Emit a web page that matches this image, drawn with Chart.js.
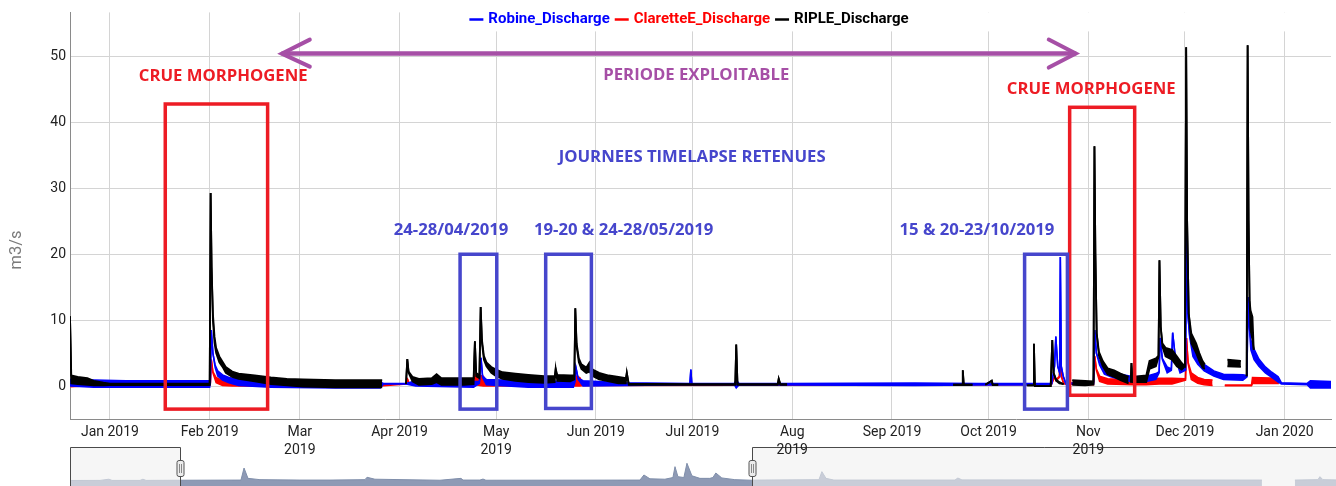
<!DOCTYPE html>
<html><head><meta charset="utf-8">
<script src="https://cdn.jsdelivr.net/npm/chart.js@4.4.1/dist/chart.umd.min.js"></script>
<style>
html,body{margin:0;padding:0;background:#fff;overflow:hidden}
#wrap{position:relative;width:1336px;height:486px}
#nav{position:absolute;left:0;top:447px;z-index:1}
#main{position:absolute;left:0;top:0;z-index:2}
</style></head><body>
<div id="wrap"><canvas id="nav" width="1336" height="39"></canvas><canvas id="main" width="1336" height="486"></canvas></div>
<script>
// ---------- axis ticks (days since 1 Jan 2019) ----------
const xMin = -12.4, xMax = 379.4;
const monthDays = [0, 31, 59, 90, 120, 151, 181, 212, 243, 273, 304, 334, 365];
const monthLabels = [['Jan 2019'], ['Feb 2019'], ['Mar', '2019'], ['Apr 2019'], ['May', '2019'], ['Jun 2019'],
  ['Jul 2019'], ['Aug', '2019'], ['Sep 2019'], ['Oct 2019'], ['Nov', '2019'], ['Dec 2019'], ['Jan 2020']];
const yTicks = [0, 10, 20, 30, 40, 50];
const seriesNames = ['Robine_Discharge', 'ClaretteE_Discharge', 'RIPLE_Discharge'];

// ---------- RIPLE_Discharge (upper / lower envelope of the dense record) ----------
const ripleDays = [-12.4, -12.0, -10, -7, -5, -2, 0, 31.0, 31.3, 31.6,
  32.0, 32.5, 33, 34, 35, 36, 38, 40, 45, 50,
  55, 60, 70, 80, 84.6, 85, 92.0, 92.4, 92.8, 94,
  96, 100, 101.5, 103, 110, 113, 113.4, 113.8, 114.8, 115.2,
  115.6, 116.2, 117, 118.5, 120, 122, 126, 130, 135, 138.2,
  138.5, 139, 143, 144.3, 144.6, 145, 145.7, 146.5, 148, 149,
  150, 152, 155, 158, 160.3, 160.6, 161.2, 180, 194.3, 194.6,
  195, 207.5, 207.8, 208.3, 210.4, 210.5, 262, 264.8, 265, 265.3,
  268, 268.1, 272, 274, 274.3, 276, 276.1, 285, 287, 287.1,
  287.4, 292.3, 292.8, 293.2, 294, 295, 296.3, 296.4, 299, 303,
  305.6, 305.9, 306.2, 306.6, 307.3, 308.5, 310, 312, 314, 316.5,
  317.0, 317.2, 317.4, 317.7, 322, 323, 325, 325.8, 326.1, 326.5,
  327, 328, 330, 331.5, 333, 334, 334.4, 334.7, 335.2, 336,
  337.5, 338.5, 339.5, 340.2, 340.3, 347.2, 351.4, 351.5, 353.2, 353.5,
  353.8, 354.1, 354.4, 355, 355.4];
const ripleHigh = [10.6, 1.6, 1.4, 1.2, 0.8, 0.5, 0.35, 0.35, 29.3, 18,
  11, 7.5, 5.8, 4.5, 3.7, 2.9, 2.2, 1.9, 1.6, 1.3,
  1.1, 1.0, 0.9, 0.9, 0.9, null, 0.3, 4.1, 2.2, 1.4,
  1.1, 1.2, 1.8, 1.2, 1.2, 1.2, 6.8, 2.0, 1.6, 12.0,
  7.0, 4.6, 3.6, 2.9, 2.5, 2.1, 1.9, 1.7, 1.5, 1.5,
  2.6, 1.7, 1.6, 1.6, 11.8, 6.5, 4.2, 3.3, 2.8, 3.6,
  2.5, 2.0, 1.6, 1.4, 1.2, 2.0, 0.35, 0.3, 0.3, 6.3,
  0.3, 0.3, 1.1, 0.3, 0.3, null, 0.2, 0.2, 2.4, 0.2,
  0.2, null, 0.2, 0.8, 0.2, 0.2, null, 0.1, 0.1, 6.4,
  0.0, 0.0, 7.0, 2.0, 1.0, 0.6, 0.3, null, 0.9, 0.8,
  0.7, 36.4, 20, 8.0, 5.2, 3.8, 2.7, 2.4, 1.9, 1.4,
  null, 1.2, 3.5, 1.4, 1.6, 3.8, 4.2, 4.6, 19.1, 9.0,
  6.5, 5.8, 5.5, 4.5, 3.5, 3.0, 51.4, 25, 11, 8.0,
  6.5, 5.0, 3.8, 3.3, null, 4.0, 3.8, null, 1.5, 51.7,
  25, 13, 11.5, 10.5, 5.5];
const ripleLow = [10.6, 0.4, 0.3, 0.2, 0.1, 0.1, 0.15, 0.15, 29.3, 18,
  10, 6.5, 5.0, 3.6, 2.9, 2.0, 1.4, 1.1, 0.7, 0.3,
  0.1, -0.1, -0.2, -0.2, -0.2, null, 0.3, 4.1, 2.0, 0.7,
  0.2, 0.3, 0.6, 0.2, 0.2, 0.3, 6.8, 1.5, 1.2, 12.0,
  6.5, 4.0, 3.0, 2.0, 1.5, 1.1, 0.8, 0.6, 0.5, 0.6,
  2.6, 0.8, 0.7, 1.0, 11.8, 6.0, 3.6, 2.6, 2.0, 2.2,
  1.5, 1.0, 0.7, 0.4, 0.4, 2.0, 0.2, 0.2, 0.2, 6.3,
  0.2, 0.2, 1.1, 0.2, 0.2, null, 0.2, 0.2, 2.4, 0.2,
  0.2, null, 0.2, 0.8, 0.2, 0.2, null, 0.1, 0.1, 6.4,
  0.0, 0.0, 7.0, 2.0, 0.8, 0.4, 0.3, null, 0.2, 0.1,
  0.2, 36.4, 20, 8.0, 4.6, 3.0, 1.8, 1.4, 0.9, 0.4,
  null, 0.5, 3.5, 0.6, 0.6, 2.6, 3.0, 4.4, 19.1, 9.0,
  6.0, 4.5, 4.0, 3.0, 2.5, 3.0, 51.4, 25, 11, 6.5,
  5.0, 3.8, 2.8, 2.6, null, 3.0, 2.9, null, 1.5, 51.7,
  25, 13, 8.5, 7.0, 5.5];

// ---------- Robine_Discharge ----------
const robineDays = [-12.4, -5, 5, 31.0, 31.2, 31.5, 32.0, 32.7, 33.5, 35,
  37, 40, 50, 70, 84, 85, 92, 95, 113, 114.8,
  115.3, 115.8, 117, 130, 144, 144.5, 144.8, 145.5, 147, 160,
  180.2, 180.5, 180.8, 194, 194.6, 195.5, 210, 250, 270, 290,
  292.6, 293.5, 293.9, 294.5, 295.1, 295.3, 295.6, 296.2, 297, 305.6,
  306.0, 306.5, 307.5, 309, 311, 314, 318, 322, 325, 326,
  326.3, 327, 328.5, 329.8, 330.2, 331, 332.5, 334.2, 334.5, 334.9,
  335.5, 336.5, 338, 340, 343, 346, 352, 353.3, 353.6, 354,
  354.5, 355.5, 357, 359, 361, 363, 364, 372, 373, 379.4];
const robineHigh = [1.0, 0.9, 0.8, 0.8, 0.6, 8.5, 5.0, 3.2, 2.3, 1.7,
  1.3, 1.0, 0.8, 0.7, 0.6, 0.4, 0.4, 0.8, 0.7, 0.7,
  4.3, 1.5, 1.0, 0.8, 0.7, 0.8, 2.8, 1.2, 0.8, 0.5,
  0.4, 2.5, 0.4, 0.4, 0.9, 0.4, 0.4, 0.45, 0.4, 0.4,
  0.4, 3.0, 7.5, 3.0, 2.0, 19.6, 3.0, 1.5, 0.5, 0.4,
  8.5, 5.0, 3.7, 2.7, 2.3, 1.8, 1.4, 1.5, 1.9, 2.2,
  7.3, 4.2, 2.9, 2.6, 8.1, 4.6, 3.1, 2.6, 23.5, 11,
  7.6, 5.6, 4.3, 3.3, 2.3, 1.8, 1.7, 1.6, 13.5, 9.0,
  7.0, 5.6, 4.1, 2.9, 2.1, 1.4, 0.5, 0.4, 0.8, 0.7];
const robineLow = [0.0, -0.2, -0.2, -0.2, 0.5, 8.5, 5.0, 2.8, 1.5, 0.9,
  0.5, 0.1, -0.2, -0.3, -0.3, 0.3, 0.3, 0.0, -0.2, 0.4,
  4.3, 1.3, 0.2, -0.2, -0.2, 0.6, 2.8, 1.0, 0.0, 0.1,
  0.2, 2.5, 0.2, 0.2, -0.3, 0.2, 0.15, 0.1, 0.15, 0.15,
  0.3, 3.0, 7.5, 3.0, 2.0, 19.6, 3.0, 1.5, 0.3, 0.3,
  8.5, 5.0, 3.2, 1.8, 1.4, 1.0, 0.6, 0.7, 1.0, 2.0,
  7.3, 4.0, 2.0, 2.4, 8.1, 4.4, 2.0, 2.4, 23.5, 11,
  7.4, 4.5, 3.3, 2.3, 1.5, 1.0, 0.9, 1.4, 13.5, 9.0,
  5.5, 4.0, 3.0, 2.0, 1.3, 0.6, 0.3, 0.2, -0.3, -0.3];

// ---------- ClaretteE_Discharge ----------
const clarDays = [-12.4, -12.0, -8, 0, 31.0, 31.2, 31.5, 32.0, 33, 35,
  38, 84, 92, 92.5, 93, 113, 113.5, 116, 117, 143.5,
  144.5, 146, 147, 292.5, 293.5, 294, 295, 295.3, 295.7, 296.3,
  305.6, 306.0, 306.5, 307.5, 310, 318, 322, 326, 330, 334.2,
  334.5, 335, 336, 338, 340, 342.6, 342.7, 346.4, 354.7, 355,
  363.2, 363.3];
const clarHigh = [1.0, 0.6, 0.5, 0.4, 0.3, 0.4, 4.0, 2.2, 1.3, 0.8,
  0.4, 0.3, 0.3, 1.0, 0.3, 0.5, 1.8, 1.5, 0.6, 0.4,
  1.6, 1.3, 0.4, 0.3, 1.5, 1.0, 1.5, 4.8, 1.5, 0.5,
  0.4, 4.5, 2.6, 1.5, 1.1, 0.9, 1.0, 1.2, 1.2, 1.1,
  7.3, 3.6, 2.0, 1.3, 1.0, 0.9, null, 0.15, 0.15, 1.3,
  1.2, null];
const clarLow = [0.8, -0.1, 0.0, 0.0, 0.1, 0.4, 4.0, 2.0, 0.5, 0.1,
  0.0, 0.0, 0.3, 1.0, 0.3, 0.0, 0.2, 0.0, 0.0, 0.1,
  0.0, 0.0, 0.1, 0.2, 1.3, 0.8, 1.3, 4.8, 1.3, 0.3,
  0.2, 4.5, 2.4, 0.7, 0.3, 0.2, 0.2, 0.3, 0.3, 0.9,
  7.3, 3.4, 1.0, 0.4, 0.2, 0.1, null, 0.05, 0.05, 0.4,
  0.4, null];

// ---------- range-selector overview (days since 1 Jan 2019, mean discharge) ----------
const navDays = [-87.8, -67.2, -61.1, -59, -39.8, -37.8, -35.7, -12.4, 29.4, 31.5,
  34.2, 42.4, 69.8, 90.4, 114.4, 115.8, 121.2, 165.8, 180.2, 181.6,
  193.2, 195.3, 197.3, 302.9, 305.6, 309.7, 320, 325.5, 326.9, 328.9,
  333, 335.1, 338.5, 344, 350.8, 352.9, 354.9, 359, 367.9, 379.5,
  385, 425.6, 427.6, 430.4, 435.8, 518.8, 520.8, 523.6, 729.2, 730,
  751.8, 767.6, 769, 771, 780];
const navValues = [0.5, 0.6, 2.0, 0.6, 0.6, 2.0, 0.6, 0.8, 1.0, 15.2,
  3.0, 1.5, 1.0, 1.0, 1.5, 4.3, 2.0, 0.8, 3.0, 1.0,
  1.0, 2.2, 0.8, 1.0, 7.0, 2.5, 2.0, 4.0, 16.8, 5.0,
  4.0, 20.8, 6.0, 3.0, 3.0, 4.0, 9.3, 3.5, 1.5, 0.8,
  1.0, 1.5, 10.9, 3.0, 1.0, 1.0, 3.4, 1.2, 1.0, null,
  1.0, 1.5, 5.0, 1.5, 1.2];

// ---------- hand-drawn annotations (data coordinates) ----------
const crueBoxes = [{x0: 17.2, x1: 49.0, y0: -3.5, y1: 42.8}, {x0: 298.2, x1: 318.4, y0: -1.4, y1: 42.3}];
const timelapseBoxes = [{x0: 108.8, x1: 120.2, y0: -3.5, y1: 20.0}, {x0: 135.4, x1: 149.6, y0: -3.4, y1: 20.0},
  {x0: 284.2, x1: 297.5, y0: -3.5, y1: 20.0}];
const annTexts = [
  {text: 'CRUE MORPHOGENE', x: 35.2, y: 47.0, kind: 'crue'},
  {text: 'CRUE MORPHOGENE', x: 304.9, y: 45.0, kind: 'crue'},
  {text: 'PERIODE EXPLOITABLE', x: 182.2, y: 47.1, kind: 'period'},
  {text: 'JOURNEES TIMELAPSE RETENUES', x: 180.9, y: 34.7, kind: 'tl'},
  {text: '24-28/04/2019', x: 106.0, y: 23.6, kind: 'tl'},
  {text: '19-20 & 24-28/05/2019', x: 159.6, y: 23.6, kind: 'tl'},
  {text: '15 & 20-23/10/2019', x: 269.4, y: 23.6, kind: 'tl'}
];
const periodArrow = {x0: 53.1, x1: 300.4, y: 50.45};

// ---------- styles ----------
const seriesColors = ['#0000ff', '#ff0000', '#000000'];
const annColors = {crue: '#ed1c24', period: '#a64fa6', tl: '#4646cc'};
const annFont = 'bold 16.7px "Open Sans"';

function pts(days, vals) { return days.map((d, i) => ({x: d, y: vals[i]})); }
function band(name, days, hi, lo, color, order, width) {
  const common = {borderColor: color, backgroundColor: color, borderWidth: width, pointRadius: 0,
    pointHoverRadius: 0, tension: 0, spanGaps: false, order: order};
  return [
    Object.assign({label: name, data: pts(days, hi), fill: false}, common),
    Object.assign({label: name + ' min', data: pts(days, lo), fill: '-1'}, common)
  ];
}

const annotationPlugin = {
  id: 'handAnnotations',
  afterDatasetsDraw(chart) {
    const ctx = chart.ctx, xs = chart.scales.x, ys = chart.scales.y;
    ctx.save();
    ctx.lineJoin = 'miter';
    function box(b, color) {
      const x0 = xs.getPixelForValue(b.x0), x1 = xs.getPixelForValue(b.x1);
      const y0 = ys.getPixelForValue(b.y0), y1 = ys.getPixelForValue(b.y1);
      ctx.strokeStyle = color; ctx.lineWidth = 3.5;
      ctx.strokeRect(x0, y1, x1 - x0, y0 - y1);
    }
    crueBoxes.forEach(b => box(b, annColors.crue));
    timelapseBoxes.forEach(b => box(b, annColors.tl));
    // double arrow
    const ax0 = xs.getPixelForValue(periodArrow.x0), ax1 = xs.getPixelForValue(periodArrow.x1);
    const ay = ys.getPixelForValue(periodArrow.y);
    ctx.strokeStyle = annColors.period; ctx.lineWidth = 4.5; ctx.lineCap = 'round';
    ctx.beginPath(); ctx.moveTo(ax0 + 2, ay); ctx.lineTo(ax1 - 2, ay); ctx.stroke();
    ctx.lineWidth = 4;
    ctx.beginPath();
    ctx.moveTo(ax0 + 29, ay - 14); ctx.lineTo(ax0 + 1, ay); ctx.lineTo(ax0 + 29, ay + 13);
    ctx.moveTo(ax1 - 28, ay - 14); ctx.lineTo(ax1 - 1, ay); ctx.lineTo(ax1 - 28, ay + 14);
    ctx.stroke();
    // texts
    ctx.font = annFont; ctx.textAlign = 'center'; ctx.textBaseline = 'middle';
    annTexts.forEach(t => {
      ctx.fillStyle = annColors[t.kind];
      ctx.fillText(t.text, xs.getPixelForValue(t.x), ys.getPixelForValue(t.y));
    });
    ctx.restore();
  },
  afterDraw(chart) {
    const ctx = chart.ctx, area = chart.chartArea;
    ctx.save();
    // legend (white box over the top of the plot, as in the original)
    ctx.fillStyle = '#ffffff';
    ctx.fillRect(455, area.top, area.right - 455, 19);
    ctx.font = 'bold 15px Roboto';
    ctx.textBaseline = 'middle'; ctx.textAlign = 'left';
    const dash = 14, gap = 5, sep = 5;
    let total = 0;
    seriesNames.forEach(n => { total += dash + gap + ctx.measureText(n).width + sep; });
    total -= sep;
    let x = 689 - total / 2; const y = 19.5;
    seriesNames.forEach((n, i) => {
      ctx.strokeStyle = seriesColors[i]; ctx.lineWidth = 2.5;
      ctx.beginPath(); ctx.moveTo(x, y); ctx.lineTo(x + dash, y); ctx.stroke();
      x += dash + gap;
      ctx.fillStyle = seriesColors[i];
      ctx.fillText(n, x, y);
      x += ctx.measureText(n).width + sep;
    });
    // y axis title
    ctx.translate(17, 250); ctx.rotate(-Math.PI / 2);
    ctx.font = '16.5px Roboto'; ctx.fillStyle = '#7a7a7a';
    ctx.textAlign = 'center'; ctx.textBaseline = 'middle';
    ctx.fillText('m3/s', 0, 0);
    ctx.restore();
  }
};

const datasets = [].concat(
  band(seriesNames[0], robineDays, robineHigh, robineLow, seriesColors[0], 2, 1.5),
  band(seriesNames[1], clarDays, clarHigh, clarLow, seriesColors[1], 3, 1.5),
  band(seriesNames[2], ripleDays, ripleHigh, ripleLow, seriesColors[2], 1, 1.8)
);

new Chart(document.getElementById('main'), {
  type: 'line',
  data: {datasets},
  options: {
    responsive: false, animation: false, events: [],
    layout: {padding: {left: 0, right: 5, top: 10, bottom: 17}},
    plugins: {legend: {display: false}, tooltip: {enabled: false}, filler: {drawTime: 'beforeDatasetDraw'}},
    scales: {
      x: {
        type: 'linear', min: xMin, max: xMax,
        afterBuildTicks: s => { s.ticks = monthDays.map(v => ({value: v})); },
        afterFit: s => { s.height = 50; },
        grid: {color: '#d4d4d4', drawTicks: false},
        border: {color: '#8a8a8a'},
        ticks: {autoSkip: false, maxRotation: 0, padding: 4, color: '#222',
          font: {family: 'Roboto', size: 14, lineHeight: 1.3},
          callback: v => monthLabels[monthDays.indexOf(v)]}
      },
      y: {
        min: -5, max: 56.7,
        afterBuildTicks: s => { s.ticks = yTicks.map(v => ({value: v})); },
        afterFit: s => { s.width = 70; },
        grid: {color: '#d4d4d4', drawTicks: false},
        border: {color: '#8a8a8a'},
        ticks: {padding: 4, color: '#222', font: {family: 'Roboto', size: 14}}
      }
    }
  },
  plugins: [annotationPlugin]
});

// ---------- range selector ----------
const navPlugin = {
  id: 'rangeSelector',
  afterDatasetsDraw(chart) {
    const ctx = chart.ctx, area = chart.chartArea, xs = chart.scales.x;
    const xl = Math.round(xs.getPixelForValue(xMin)), xr = Math.round(xs.getPixelForValue(xMax));
    ctx.save();
    ctx.fillStyle = 'rgba(240,240,240,0.6)';
    ctx.fillRect(area.left, 0, xl - area.left, chart.height);
    ctx.fillRect(xr, 0, area.right - xr, chart.height);
    ctx.strokeStyle = '#4a4a4a'; ctx.lineWidth = 1;
    ctx.beginPath();
    ctx.moveTo(area.left + 0.5, chart.height); ctx.lineTo(area.left + 0.5, 0.5);
    ctx.lineTo(xl + 0.5, 0.5); ctx.lineTo(xl + 0.5, chart.height);
    ctx.moveTo(xr + 0.5, chart.height); ctx.lineTo(xr + 0.5, 0.5); ctx.lineTo(area.right, 0.5);
    ctx.stroke();
    [xl, xr].forEach(x => {
      ctx.fillStyle = '#ececec'; ctx.strokeStyle = '#555';
      ctx.beginPath(); ctx.roundRect(x - 3, 13.5, 7, 16, 2); ctx.fill(); ctx.stroke();
      ctx.beginPath(); ctx.moveTo(x - 0.5, 17); ctx.lineTo(x - 0.5, 26); ctx.moveTo(x + 1.5, 17); ctx.lineTo(x + 1.5, 26);
      ctx.strokeStyle = '#888'; ctx.stroke();
    });
    ctx.restore();
  }
};
new Chart(document.getElementById('nav'), {
  type: 'line',
  data: {datasets: [{data: pts(navDays, navValues), borderColor: '#7f8eaa', backgroundColor: '#8e9ab5',
    borderWidth: 1, pointRadius: 0, fill: 'start', tension: 0, spanGaps: false}]},
  options: {
    responsive: false, animation: false, events: [],
    layout: {padding: {left: 70, right: 0, top: 0, bottom: 0}},
    plugins: {legend: {display: false}, tooltip: {enabled: false}},
    scales: {x: {type: 'linear', display: false, min: -87.8, max: 780}, y: {display: false, min: -6, max: 40}}
  },
  plugins: [navPlugin]
});
</script>
</body></html>
